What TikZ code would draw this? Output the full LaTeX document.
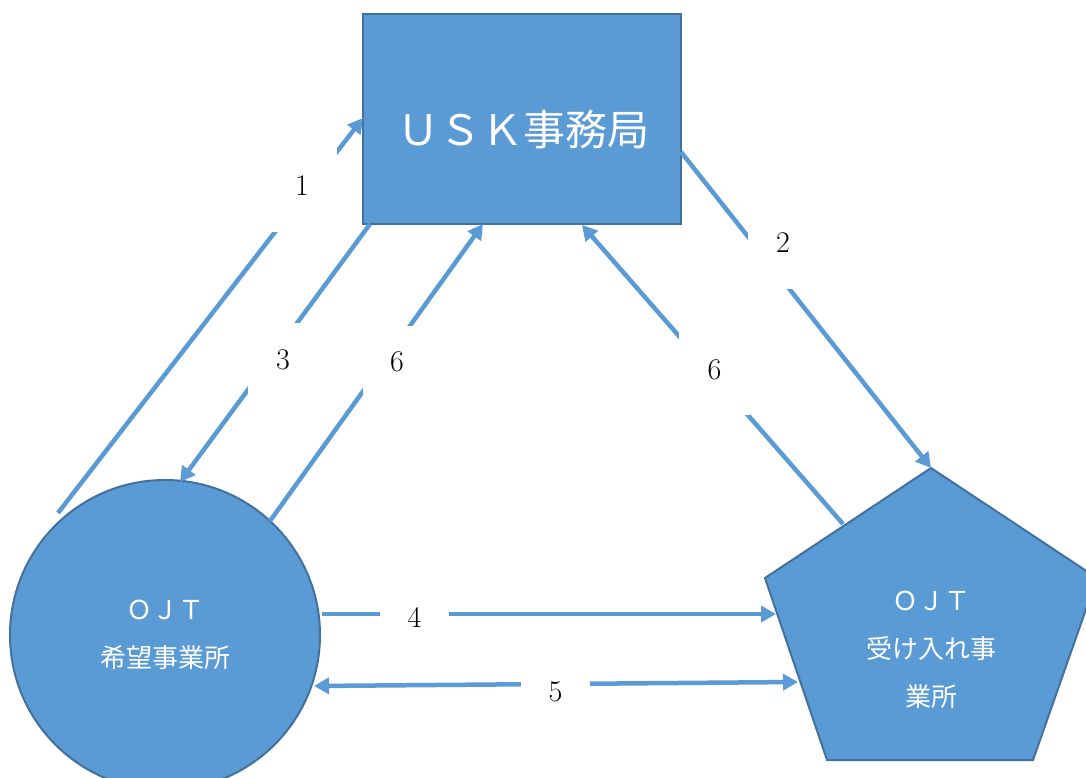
\documentclass[tikz,border=0pt]{standalone}
\usepackage{fontspec}
\newfontfamily\jp{Noto Sans CJK JP}
\usetikzlibrary{arrows.meta}
\definecolor{shapefill}{HTML}{5B9BD5}
\definecolor{shapeline}{HTML}{41719C}
\definecolor{arrowcol}{HTML}{5B9BD5}
\begin{document}
\begin{tikzpicture}[x=1pt,y=-1pt,
  shapestyle/.style={fill=shapefill,draw=shapeline,line width=2pt},
  flow/.style={draw=arrowcol,line width=4.5pt,-{Triangle[length=15pt,width=16pt]}},
  flowboth/.style={draw=arrowcol,line width=4.5pt,{Triangle[length=15pt,width=16pt]}-{Triangle[length=15pt,width=16pt]}},
  numlabel/.style={fill=white,inner sep=0pt,font=\fontsize{30}{32}\selectfont,text=black},
  shapetext/.style={text=white,font=\jp\fontsize{26}{48}\selectfont,align=center}]
\useasboundingbox (0,0) rectangle (1086,778);

% shapes
\node[shapestyle, minimum width=318pt, minimum height=210pt, inner sep=0pt, outer sep=0pt] (usk) at (522,119) {};
\node[text=white, font=\jp\fontsize{42}{46}\selectfont] (usktext) at (523,130) {ＵＳＫ事務局};
\node[shapestyle, circle, minimum size=310pt, inner sep=0pt, shapetext] (ojtl) at (165,635) {ＯＪＴ\\希望事業所};
\draw[shapestyle] (931,468) -- (1097,578) -- (1033,760) -- (827,760) -- (765,578) -- cycle;
\node[shapetext] (ojtr) at (931,650) {ＯＪＴ\\受け入れ事\\業所};

% connector end points
\coordinate (a1s) at (58,513);   \coordinate (a1e) at (363,118);
\coordinate (a2s) at (681,152);  \coordinate (a2e) at (931,468);
\coordinate (a3s) at (370,224);  \coordinate (a3e) at (180,482);
\coordinate (a6ls) at (270,521); \coordinate (a6le) at (483,224);
\coordinate (a6rs) at (843,524); \coordinate (a6re) at (582,225);
\coordinate (a4s) at (322,614);  \coordinate (a4e) at (776,614);
\coordinate (a5s) at (314,686);  \coordinate (a5e) at (798,682);

% connectors
\draw[flow] (a1s) -- (a1e);
\draw[flow] (a2s) -- (a2e);
\draw[flow] (a3s) -- (a3e);
\draw[flow] (a6ls) -- (a6le);
\draw[flow] (a6rs) -- (a6re);
\draw[flow] (a4s) -- (a4e);
\draw[flowboth] (a5s) -- (a5e);

% labels
\node[numlabel, minimum width=70pt, minimum height=92pt] (n1) at (302,186) {1};
\node[numlabel, minimum width=70pt, minimum height=92pt] (n2) at (783,243) {2};
\node[numlabel, minimum width=70pt, minimum height=74pt] (n3) at (283,360) {3};
\node[numlabel, minimum width=68pt, minimum height=72pt] (n6a) at (397,362) {6};
\node[numlabel, minimum width=71pt, minimum height=90pt] (n6b) at (714.5,370) {6};
\node[numlabel, minimum width=69pt, minimum height=40pt] (n4) at (414.5,617) {4};
\node[numlabel, minimum width=69pt, minimum height=40pt] (n5) at (555.5,692) {5};
\end{tikzpicture}
\end{document}
